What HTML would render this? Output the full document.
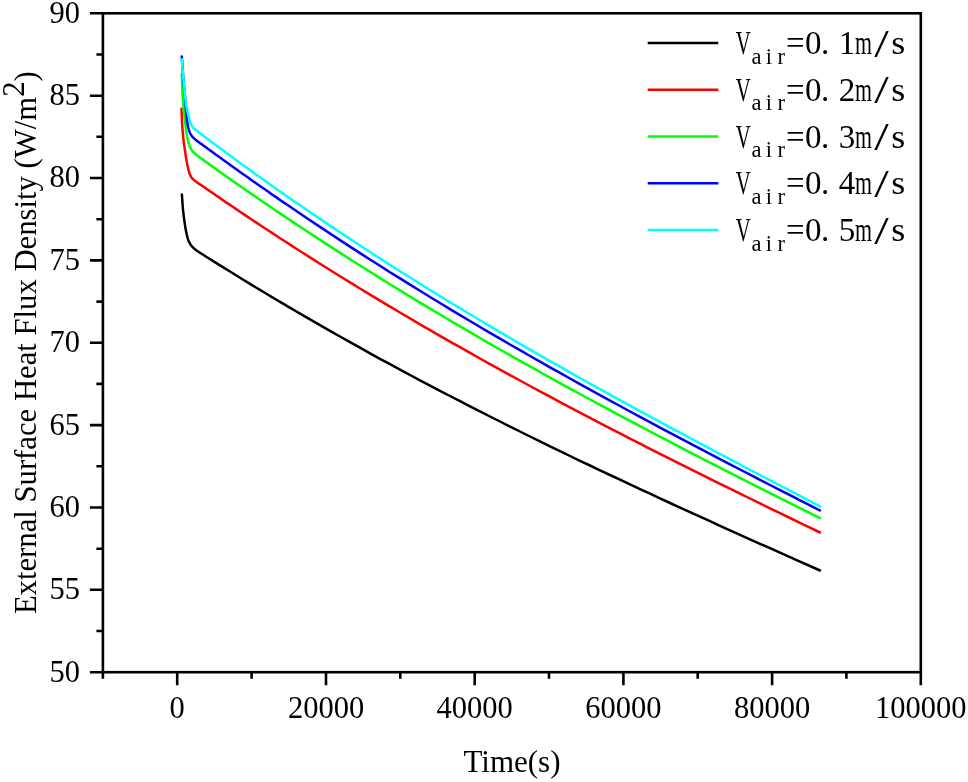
<!DOCTYPE html>
<html lang="en">
<head>
<meta charset="utf-8">
<title>External Surface Heat Flux Density vs Time</title>
<style>
html,body{margin:0;padding:0;background:#fff;}
body{width:968px;height:782px;overflow:hidden;}
svg{display:block;}
text{font-family:"Liberation Serif","Times New Roman",serif;fill:#000;}
.tick text{font-size:30.5px;}
.yt text{text-anchor:end;}
.xt text{text-anchor:middle;}
.axl{font-size:31px;text-anchor:middle;}
.yl{font-size:30.7px;}
.lg{font-size:33px;text-anchor:middle;}
.sub{font-size:22.5px;}
.sl{font-size:41px;}
.curves polyline{fill:none;stroke-width:2.5;stroke-linejoin:round;stroke-linecap:round;}
</style>
</head>
<body>
<svg width="968" height="782" viewBox="0 0 968 782">
<rect width="968" height="782" fill="#fff"/>
<g class="curves">
<polyline points="181.9,194.5 182.3,200.7 182.7,206.1 183.1,210.5 183.5,214.2 183.9,217.4 184.3,220.4 184.7,223.2 185.1,225.8 185.5,228.2 185.9,230.4 186.3,232.3 186.7,234.2 187.1,235.9 187.5,237.5 187.9,238.9 188.3,240.0 188.7,241.0 189.1,241.9 189.5,242.7 189.9,243.4 190.3,244.1 190.7,244.7 191.1,245.3 191.5,245.8 191.9,246.3 192.3,246.7 192.7,247.2 193.1,247.6 193.5,247.9 193.9,248.3 194.3,248.7 194.7,249.0 195.1,249.3 195.5,249.7 195.9,250.0 196.3,250.3 196.7,250.6 197.1,250.9 197.5,251.2 197.9,251.4 198.3,251.7 198.7,252.0 199.1,252.2 199.5,252.5 199.9,252.7 200.3,253.0 200.7,253.2 201.1,253.5 201.5,253.7 201.9,254.0 202.3,254.2 202.7,254.5 203.1,254.7 203.5,255.0 203.9,255.2 204.3,255.5 204.7,255.8 205.1,256.0 205.5,256.3 205.9,256.5 206.3,256.8 206.7,257.0 207.1,257.3 207.5,257.5 207.9,257.8 208.3,258.0 208.7,258.3 209.1,258.5 209.5,258.8 209.9,259.0 210.3,259.3 210.7,259.5 211.1,259.8 211.5,260.0 211.9,260.3 212.0,260.4 216.0,262.9 220.0,265.4 224.0,267.9 228.0,270.3 232.0,272.8 236.0,275.3 240.0,277.7 244.0,280.2 248.0,282.6 252.0,285.1 256.0,287.5 260.0,289.9 264.0,292.3 268.0,294.7 272.0,297.1 276.0,299.5 280.0,301.9 284.0,304.2 288.0,306.6 292.0,308.9 296.0,311.3 300.0,313.6 310.0,319.4 320.0,325.2 330.0,330.9 340.0,336.5 350.0,342.2 360.0,347.7 370.0,353.3 380.0,358.8 390.0,364.2 400.0,369.6 410.0,375.0 420.0,380.3 430.0,385.6 440.0,390.8 450.0,396.0 460.0,401.2 470.0,406.3 480.0,411.4 490.0,416.5 500.0,421.5 510.0,426.6 520.0,431.5 530.0,436.5 540.0,441.4 550.0,446.3 560.0,451.1 570.0,456.0 580.0,460.8 590.0,465.5 600.0,470.3 610.0,475.0 620.0,479.7 630.0,484.4 640.0,489.1 650.0,493.7 660.0,498.4 670.0,503.0 680.0,507.6 690.0,512.1 700.0,516.7 710.0,521.2 720.0,525.8 730.0,530.3 740.0,534.8 750.0,539.3 760.0,543.8 770.0,548.2 780.0,552.7 790.0,557.1 800.0,561.6 810.0,566.0 820.0,570.5" stroke="#000"/>
<polyline points="181.5,108.8 181.9,119.0 182.3,126.3 182.7,131.8 183.1,136.3 183.5,140.1 183.9,143.1 184.3,145.9 184.7,148.7 185.1,151.3 185.5,154.0 185.9,156.7 186.3,159.2 186.7,161.5 187.1,163.6 187.5,165.7 187.9,167.5 188.3,169.2 188.7,170.7 189.1,172.0 189.5,173.2 189.9,174.3 190.3,175.3 190.7,176.2 191.1,176.9 191.5,177.5 191.9,178.0 192.3,178.5 192.7,178.9 193.1,179.3 193.5,179.6 193.9,180.0 194.3,180.3 194.7,180.6 195.1,180.9 195.5,181.2 195.9,181.6 196.3,181.9 196.7,182.2 197.1,182.5 197.5,182.7 197.9,183.0 198.3,183.3 198.7,183.6 199.1,183.8 199.5,184.1 199.9,184.4 200.3,184.6 200.7,184.9 201.1,185.1 201.5,185.4 201.9,185.7 202.3,185.9 202.7,186.2 203.1,186.5 203.5,186.8 203.9,187.0 204.3,187.3 204.7,187.6 205.1,187.9 205.5,188.1 205.9,188.4 206.3,188.7 206.7,189.0 207.1,189.3 207.5,189.5 207.9,189.8 208.3,190.1 208.7,190.4 209.1,190.6 209.5,190.9 209.9,191.2 210.3,191.5 210.7,191.7 211.1,192.0 211.5,192.3 211.9,192.6 212.0,192.6 216.0,195.4 220.0,198.1 224.0,200.9 228.0,203.6 232.0,206.3 236.0,209.0 240.0,211.7 244.0,214.4 248.0,217.1 252.0,219.7 256.0,222.4 260.0,225.0 264.0,227.7 268.0,230.3 272.0,232.9 276.0,235.5 280.0,238.2 284.0,240.7 288.0,243.3 292.0,245.9 296.0,248.5 300.0,251.0 310.0,257.4 320.0,263.7 330.0,270.0 340.0,276.2 350.0,282.4 360.0,288.5 370.0,294.6 380.0,300.6 390.0,306.6 400.0,312.5 410.0,318.4 420.0,324.3 430.0,330.1 440.0,335.8 450.0,341.6 460.0,347.2 470.0,352.9 480.0,358.5 490.0,364.1 500.0,369.6 510.0,375.1 520.0,380.5 530.0,386.0 540.0,391.4 550.0,396.7 560.0,402.1 570.0,407.4 580.0,412.6 590.0,417.9 600.0,423.1 610.0,428.3 620.0,433.4 630.0,438.6 640.0,443.7 650.0,448.8 660.0,453.8 670.0,458.9 680.0,463.9 690.0,468.9 700.0,473.9 710.0,478.9 720.0,483.8 730.0,488.7 740.0,493.6 750.0,498.5 760.0,503.4 770.0,508.3 780.0,513.2 790.0,518.0 800.0,522.8 810.0,527.7 820.0,532.5" stroke="#f00"/>
<polyline points="181.8,73.9 182.2,85.3 182.6,94.7 183.0,101.4 183.4,105.9 183.8,109.5 184.2,113.3 184.6,117.3 185.0,121.2 185.4,124.7 185.8,128.1 186.2,131.2 186.6,133.9 187.0,136.1 187.4,138.1 187.8,139.8 188.2,141.4 188.6,142.9 189.0,144.3 189.4,145.5 189.8,146.6 190.2,147.5 190.6,148.2 191.0,149.0 191.4,149.6 191.8,150.2 192.2,150.7 192.6,151.2 193.0,151.7 193.4,152.1 193.8,152.5 194.2,152.9 194.6,153.3 195.0,153.6 195.4,154.0 195.8,154.3 196.2,154.7 196.6,155.0 197.0,155.3 197.4,155.7 197.8,156.0 198.2,156.3 198.6,156.6 199.0,156.9 199.4,157.2 199.8,157.5 200.2,157.8 200.6,158.0 201.0,158.3 201.4,158.6 201.8,158.9 202.2,159.2 202.6,159.5 203.0,159.8 203.4,160.1 203.8,160.4 204.2,160.7 204.6,160.9 205.0,161.2 205.4,161.5 205.8,161.8 206.2,162.1 206.6,162.4 207.0,162.7 207.4,162.9 207.8,163.2 208.2,163.5 208.6,163.8 209.0,164.1 209.4,164.4 209.8,164.7 210.2,164.9 210.6,165.2 211.0,165.5 211.4,165.8 211.8,166.1 212.0,166.2 216.0,169.1 220.0,171.9 224.0,174.8 228.0,177.6 232.0,180.4 236.0,183.2 240.0,186.0 244.0,188.8 248.0,191.5 252.0,194.3 256.0,197.1 260.0,199.8 264.0,202.5 268.0,205.3 272.0,208.0 276.0,210.7 280.0,213.4 284.0,216.1 288.0,218.8 292.0,221.4 296.0,224.1 300.0,226.7 310.0,233.3 320.0,239.9 330.0,246.4 340.0,252.8 350.0,259.2 360.0,265.5 370.0,271.8 380.0,278.1 390.0,284.3 400.0,290.4 410.0,296.5 420.0,302.6 430.0,308.6 440.0,314.5 450.0,320.5 460.0,326.3 470.0,332.2 480.0,338.0 490.0,343.8 500.0,349.5 510.0,355.2 520.0,360.8 530.0,366.4 540.0,372.0 550.0,377.6 560.0,383.1 570.0,388.6 580.0,394.0 590.0,399.5 600.0,404.9 610.0,410.2 620.0,415.6 630.0,420.9 640.0,426.2 650.0,431.5 660.0,436.7 670.0,441.9 680.0,447.1 690.0,452.3 700.0,457.5 710.0,462.6 720.0,467.7 730.0,472.8 740.0,477.9 750.0,483.0 760.0,488.1 770.0,493.1 780.0,498.1 790.0,503.2 800.0,508.2 810.0,513.2 820.0,518.2" stroke="#0f0"/>
<polyline points="181.8,56.4 182.2,62.6 182.6,68.5 183.0,74.1 183.4,79.2 183.8,83.8 184.2,88.0 184.6,92.2 185.0,96.5 185.4,101.3 185.8,106.7 186.2,111.6 186.6,116.0 187.0,119.9 187.4,123.0 187.8,125.3 188.2,127.3 188.6,128.9 189.0,130.2 189.4,131.4 189.8,132.4 190.2,133.3 190.6,134.1 191.0,134.8 191.4,135.4 191.8,136.0 192.2,136.5 192.6,137.0 193.0,137.4 193.4,137.8 193.8,138.2 194.2,138.5 194.6,138.9 195.0,139.2 195.4,139.6 195.8,139.9 196.2,140.3 196.6,140.6 197.0,140.9 197.4,141.2 197.8,141.5 198.2,141.8 198.6,142.1 199.0,142.4 199.4,142.6 199.8,142.9 200.2,143.2 200.6,143.5 201.0,143.8 201.4,144.0 201.8,144.3 202.2,144.6 202.6,144.9 203.0,145.2 203.4,145.5 203.8,145.8 204.2,146.1 204.6,146.4 205.0,146.7 205.4,146.9 205.8,147.2 206.2,147.5 206.6,147.8 207.0,148.1 207.4,148.4 207.8,148.7 208.2,149.0 208.6,149.3 209.0,149.6 209.4,149.9 209.8,150.2 210.2,150.5 210.6,150.7 211.0,151.0 211.4,151.3 211.8,151.6 212.0,151.8 216.0,154.7 220.0,157.6 224.0,160.5 228.0,163.3 232.0,166.2 236.0,169.1 240.0,171.9 244.0,174.8 248.0,177.6 252.0,180.4 256.0,183.2 260.0,186.0 264.0,188.8 268.0,191.6 272.0,194.4 276.0,197.1 280.0,199.9 284.0,202.6 288.0,205.3 292.0,208.1 296.0,210.8 300.0,213.5 310.0,220.2 320.0,226.9 330.0,233.5 340.0,240.1 350.0,246.6 360.0,253.1 370.0,259.5 380.0,265.8 390.0,272.2 400.0,278.4 410.0,284.6 420.0,290.8 430.0,297.0 440.0,303.0 450.0,309.1 460.0,315.1 470.0,321.0 480.0,327.0 490.0,332.8 500.0,338.7 510.0,344.5 520.0,350.2 530.0,356.0 540.0,361.7 550.0,367.3 560.0,372.9 570.0,378.5 580.0,384.1 590.0,389.6 600.0,395.1 610.0,400.6 620.0,406.0 630.0,411.5 640.0,416.8 650.0,422.2 660.0,427.6 670.0,432.9 680.0,438.2 690.0,443.4 700.0,448.7 710.0,453.9 720.0,459.1 730.0,464.3 740.0,469.5 750.0,474.7 760.0,479.8 770.0,485.0 780.0,490.1 790.0,495.2 800.0,500.3 810.0,505.4 820.0,510.5" stroke="#00f"/>
<polyline points="181.8,59.2 182.2,64.3 182.6,69.1 183.0,73.8 183.4,78.3 183.8,82.6 184.2,86.9 184.6,90.9 185.0,94.8 185.4,98.3 185.8,101.6 186.2,104.5 186.6,107.1 187.0,109.3 187.4,111.3 187.8,113.2 188.2,114.9 188.6,116.5 189.0,118.1 189.4,119.7 189.8,121.0 190.2,122.2 190.6,123.2 191.0,124.1 191.4,125.0 191.8,125.7 192.2,126.4 192.6,126.9 193.0,127.4 193.4,127.8 193.8,128.2 194.2,128.6 194.6,128.9 195.0,129.3 195.4,129.6 195.8,129.9 196.2,130.2 196.6,130.5 197.0,130.9 197.4,131.2 197.8,131.5 198.2,131.8 198.6,132.1 199.0,132.5 199.4,132.8 199.8,133.1 200.2,133.4 200.6,133.7 201.0,134.0 201.4,134.3 201.8,134.6 202.2,134.9 202.6,135.2 203.0,135.5 203.4,135.8 203.8,136.1 204.2,136.4 204.6,136.7 205.0,137.0 205.4,137.3 205.8,137.6 206.2,137.9 206.6,138.2 207.0,138.5 207.4,138.8 207.8,139.1 208.2,139.4 208.6,139.7 209.0,140.0 209.4,140.3 209.8,140.6 210.2,140.9 210.6,141.2 211.0,141.5 211.4,141.8 211.8,142.1 212.0,142.2 216.0,145.2 220.0,148.2 224.0,151.1 228.0,154.1 232.0,157.0 236.0,159.9 240.0,162.9 244.0,165.8 248.0,168.6 252.0,171.5 256.0,174.4 260.0,177.3 264.0,180.1 268.0,182.9 272.0,185.8 276.0,188.6 280.0,191.4 284.0,194.2 288.0,197.0 292.0,199.8 296.0,202.5 300.0,205.3 310.0,212.1 320.0,218.9 330.0,225.6 340.0,232.3 350.0,238.9 360.0,245.5 370.0,252.0 380.0,258.5 390.0,264.9 400.0,271.2 410.0,277.5 420.0,283.8 430.0,290.0 440.0,296.1 450.0,302.2 460.0,308.3 470.0,314.3 480.0,320.3 490.0,326.2 500.0,332.1 510.0,338.0 520.0,343.8 530.0,349.6 540.0,355.3 550.0,361.1 560.0,366.7 570.0,372.4 580.0,378.0 590.0,383.6 600.0,389.1 610.0,394.7 620.0,400.2 630.0,405.7 640.0,411.1 650.0,416.5 660.0,421.9 670.0,427.3 680.0,432.7 690.0,438.0 700.0,443.4 710.0,448.7 720.0,454.0 730.0,459.2 740.0,464.5 750.0,469.8 760.0,475.0 770.0,480.2 780.0,485.5 790.0,490.7 800.0,495.9 810.0,501.1 820.0,506.3" stroke="#0ff"/>
</g>
<rect x="102.9" y="13.3" width="817.9" height="658.9" fill="none" stroke="#000" stroke-width="2.6"/>
<path d="M102.9,672.2H89.9M102.9,589.8H89.9M102.9,507.5H89.9M102.9,425.1H89.9M102.9,342.8H89.9M102.9,260.4H89.9M102.9,178.0H89.9M102.9,95.7H89.9M102.9,13.3H89.9M102.9,631.0H96.4M102.9,548.7H96.4M102.9,466.3H96.4M102.9,383.9H96.4M102.9,301.6H96.4M102.9,219.2H96.4M102.9,136.8H96.4M102.9,54.5H96.4M177.2,672.2V685.2M326.0,672.2V685.2M474.7,672.2V685.2M623.4,672.2V685.2M772.1,672.2V685.2M920.8,672.2V685.2M102.9,672.2V678.7M251.6,672.2V678.7M400.3,672.2V678.7M549.0,672.2V678.7M697.7,672.2V678.7M846.4,672.2V678.7" stroke="#000" stroke-width="2.6" fill="none"/>
<g class="tick yt"><text x="80" y="681.6">50</text><text x="80" y="599.2">55</text><text x="80" y="516.9">60</text><text x="80" y="434.5">65</text><text x="80" y="352.1">70</text><text x="80" y="269.8">75</text><text x="80" y="187.4">80</text><text x="80" y="105.1">85</text><text x="80" y="22.7">90</text></g>
<g class="tick xt"><text x="177.2" y="718">0</text><text x="326.0" y="718">20000</text><text x="474.7" y="718">40000</text><text x="623.4" y="718">60000</text><text x="772.1" y="718">80000</text><text x="920.8" y="718">100000</text></g>
<text class="axl" x="512" y="771.7">Time(s)</text>
<text class="axl yl" transform="translate(35.5,342.7) rotate(-90)">External Surface Heat Flux Density (W/m<tspan dy="-11.3">2</tspan><tspan dy="11.3">)</tspan></text>
<g class="legend">
<line x1="647.7" x2="718.3" y1="43.0" y2="43.0" stroke="#000" stroke-width="2.5"/>
<text class="lg" y="54.0"><tspan x="743.2" textLength="15" lengthAdjust="spacingAndGlyphs">V</tspan><tspan class="sub" dy="9.5" x="756.6 769 781.2">air</tspan><tspan dy="-9.5" x="795.3 813.2 825.2 847">=0.1</tspan><tspan x="863.5" textLength="17" lengthAdjust="spacingAndGlyphs">m</tspan><tspan class="sl" x="881.4" dy="2.5" textLength="14.5" lengthAdjust="spacingAndGlyphs">/</tspan><tspan x="898.2" dy="-2.5" textLength="14" lengthAdjust="spacingAndGlyphs">s</tspan></text>
<line x1="647.7" x2="718.3" y1="89.8" y2="89.8" stroke="#f00" stroke-width="2.5"/>
<text class="lg" y="100.8"><tspan x="743.2" textLength="15" lengthAdjust="spacingAndGlyphs">V</tspan><tspan class="sub" dy="9.5" x="756.6 769 781.2">air</tspan><tspan dy="-9.5" x="795.3 813.2 825.2 847">=0.2</tspan><tspan x="863.5" textLength="17" lengthAdjust="spacingAndGlyphs">m</tspan><tspan class="sl" x="881.4" dy="2.5" textLength="14.5" lengthAdjust="spacingAndGlyphs">/</tspan><tspan x="898.2" dy="-2.5" textLength="14" lengthAdjust="spacingAndGlyphs">s</tspan></text>
<line x1="647.7" x2="718.3" y1="136.5" y2="136.5" stroke="#0f0" stroke-width="2.5"/>
<text class="lg" y="147.5"><tspan x="743.2" textLength="15" lengthAdjust="spacingAndGlyphs">V</tspan><tspan class="sub" dy="9.5" x="756.6 769 781.2">air</tspan><tspan dy="-9.5" x="795.3 813.2 825.2 847">=0.3</tspan><tspan x="863.5" textLength="17" lengthAdjust="spacingAndGlyphs">m</tspan><tspan class="sl" x="881.4" dy="2.5" textLength="14.5" lengthAdjust="spacingAndGlyphs">/</tspan><tspan x="898.2" dy="-2.5" textLength="14" lengthAdjust="spacingAndGlyphs">s</tspan></text>
<line x1="647.7" x2="718.3" y1="183.2" y2="183.2" stroke="#00f" stroke-width="2.5"/>
<text class="lg" y="194.2"><tspan x="743.2" textLength="15" lengthAdjust="spacingAndGlyphs">V</tspan><tspan class="sub" dy="9.5" x="756.6 769 781.2">air</tspan><tspan dy="-9.5" x="795.3 813.2 825.2 847">=0.4</tspan><tspan x="863.5" textLength="17" lengthAdjust="spacingAndGlyphs">m</tspan><tspan class="sl" x="881.4" dy="2.5" textLength="14.5" lengthAdjust="spacingAndGlyphs">/</tspan><tspan x="898.2" dy="-2.5" textLength="14" lengthAdjust="spacingAndGlyphs">s</tspan></text>
<line x1="647.7" x2="718.3" y1="230.0" y2="230.0" stroke="#0ff" stroke-width="2.5"/>
<text class="lg" y="241.0"><tspan x="743.2" textLength="15" lengthAdjust="spacingAndGlyphs">V</tspan><tspan class="sub" dy="9.5" x="756.6 769 781.2">air</tspan><tspan dy="-9.5" x="795.3 813.2 825.2 847">=0.5</tspan><tspan x="863.5" textLength="17" lengthAdjust="spacingAndGlyphs">m</tspan><tspan class="sl" x="881.4" dy="2.5" textLength="14.5" lengthAdjust="spacingAndGlyphs">/</tspan><tspan x="898.2" dy="-2.5" textLength="14" lengthAdjust="spacingAndGlyphs">s</tspan></text>
</g>
</svg>
</body>
</html>
